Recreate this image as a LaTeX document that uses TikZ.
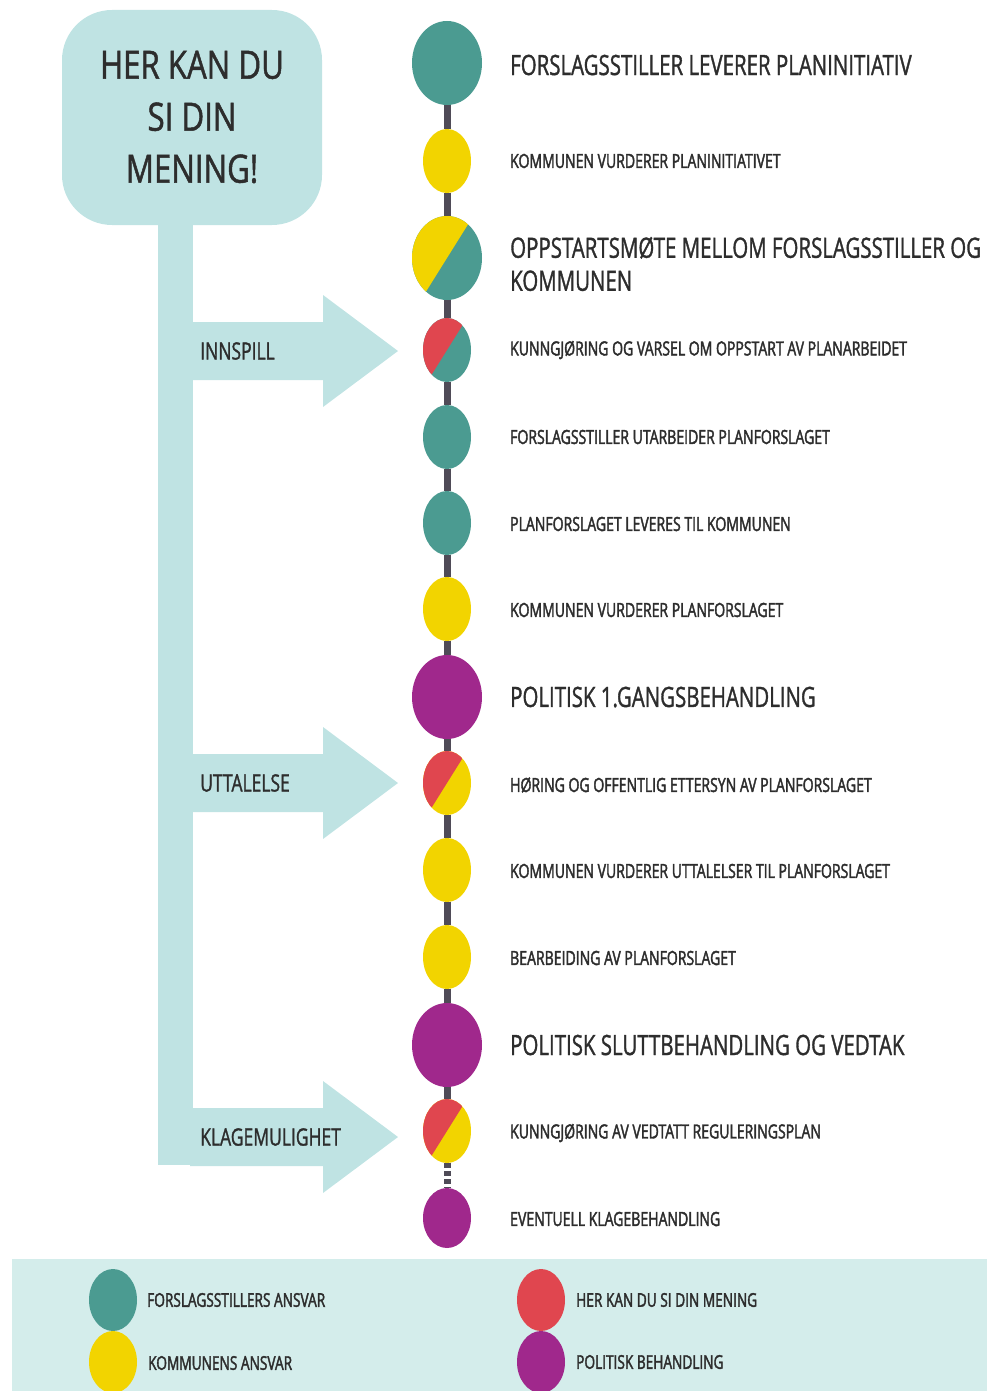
\documentclass[tikz,border=0pt]{standalone}
\usepackage{fontspec}
\setmainfont{Open Sans}
\newfontfamily\narrowfont[FakeStretch=0.73,FakeBold=1.2]{Open Sans}
\newfontfamily\stepfont[FakeStretch=0.72,FakeBold=2]{Open Sans}
\newfontfamily\signfont[FakeStretch=0.8,FakeBold=1.2]{Open Sans}
\usetikzlibrary{shapes.geometric,calc}

\definecolor{forslag}{HTML}{4B9B91}
\definecolor{kommune}{HTML}{F2D400}
\definecolor{mening}{HTML}{E0464F}
\definecolor{politisk}{HTML}{A0288C}
\definecolor{track}{HTML}{4F4B57}
\definecolor{sign}{HTML}{BFE3E3}
\definecolor{legendbg}{HTML}{D4EDEB}
\definecolor{ink}{HTML}{2D2D2D}

\tikzset{
  dot/.style={ellipse, inner sep=0pt, minimum width=48pt, minimum height=64pt, fill=#1},
  dot/.default=forslag,
  big/.style={minimum width=70pt, minimum height=84pt},
  halfdot/.style 2 args={fill=#2, path picture={
    \fill[#1] ([shift={(58:90pt)}]path picture bounding box.center)
      -- ([shift={(238:90pt)}]path picture bounding box.center)
      -- ([shift={(148:90pt)}]path picture bounding box.center) -- cycle;}},
  steptext/.style={anchor=west, inner sep=0pt, text=ink, font=\stepfont\fontsize{19.5}{22}\selectfont},
  bigtext/.style={steptext, font=\narrowfont\fontsize{28}{33}\selectfont},
  armtext/.style={anchor=west, inner sep=0pt, text=ink, font=\narrowfont\fontsize{24}{28}\selectfont},
  legendtext/.style={anchor=west, inner sep=0pt, text=ink, font=\stepfont\fontsize{19}{22}\selectfont},
  tracklink/.style={draw=track, line width=7pt},
}

\begin{document}
\begin{tikzpicture}[x=1pt,y=-1pt]
  \useasboundingbox (0,0) rectangle (987,1391);

  % Sign with stem and arrows
  \fill[sign, rounded corners=50pt] (62,10) rectangle (322,225);
  \fill[sign] (158,215) rectangle (193,1165);
  \foreach \y in {351,783,1137}
    \fill[sign] (190,\y-29) -- (323,\y-29) -- (323,\y-56) -- (398,\y)
      -- (323,\y+56) -- (323,\y+29) -- (190,\y+29) -- cycle;
  \node[text=ink, align=center, font=\signfont\fontsize{39}{52}\selectfont] (sign) at (192,117) {HER KAN DU\\SI DIN\\MENING!};
  \node[armtext] (innspill) at (200,351) {INNSPILL};
  \node[armtext] (uttalelse) at (200,783) {UTTALELSE};
  \node[armtext] (klage) at (200,1137) {KLAGEMULIGHET};

  % Steps
  \node[dot=forslag, big] (s1) at (447,63) {};
  \node[dot=kommune] (s2) at (447,161) {};
  \node[dot, big, halfdot={kommune}{forslag}] (s3) at (447,258) {};
  \node[dot, halfdot={mening}{forslag}] (s4) at (447,350) {};
  \node[dot=forslag] (s5) at (447,437) {};
  \node[dot=forslag] (s6) at (447,523) {};
  \node[dot=kommune] (s7) at (447,609) {};
  \node[dot=politisk, big] (s8) at (447,697) {};
  \node[dot, halfdot={mening}{kommune}] (s9) at (447,783) {};
  \node[dot=kommune] (s10) at (447,870) {};
  \node[dot=kommune] (s11) at (447,957) {};
  \node[dot=politisk, big] (s12) at (447,1045) {};
  \node[dot, halfdot={mening}{kommune}] (s13) at (447,1131) {};
  \node[dot=politisk, minimum height=60pt] (s14) at (447,1218) {};

  % Track
  \foreach \a/\b in {s1/s2,s2/s3,s3/s4,s4/s5,s5/s6,s6/s7,s7/s8,s8/s9,s9/s10,s10/s11,s11/s12,s12/s13}
    \draw[tracklink] (\a) -- (\b);
  \draw[tracklink, dash pattern=on 5pt off 3pt] (s13) -- (s14);

  % Step texts
  \node[bigtext] (t1) at (510,65) {FORSLAGSSTILLER LEVERER PLANINITIATIV};
  \node[steptext] (t2) at (510,161) {KOMMUNEN VURDERER PLANINITIATIVET};
  \node[bigtext, align=left] (t3) at (510,264) {OPPSTARTSMØTE MELLOM FORSLAGSSTILLER OG\\KOMMUNEN};
  \node[steptext] (t4) at (510,350) {KUNNGJØRING OG VARSEL OM OPPSTART AV PLANARBEIDET};
  \node[steptext] (t5) at (510,437) {FORSLAGSSTILLER UTARBEIDER PLANFORSLAGET};
  \node[steptext] (t6) at (510,524) {PLANFORSLAGET LEVERES TIL KOMMUNEN};
  \node[steptext] (t7) at (510,610) {KOMMUNEN VURDERER PLANFORSLAGET};
  \node[bigtext] (t8) at (510,697) {POLITISK 1.GANGSBEHANDLING};
  \node[steptext] (t9) at (510,785) {HØRING OG OFFENTLIG ETTERSYN AV PLANFORSLAGET};
  \node[steptext] (t10) at (510,871) {KOMMUNEN VURDERER UTTALELSER TIL PLANFORSLAGET};
  \node[steptext] (t11) at (510,958) {BEARBEIDING AV PLANFORSLAGET};
  \node[bigtext] (t12) at (510,1045) {POLITISK SLUTTBEHANDLING OG VEDTAK};
  \node[steptext] (t13) at (510,1133) {KUNNGJØRING AV VEDTATT REGULERINGSPLAN};
  \node[steptext] (t14) at (510,1219) {EVENTUELL KLAGEBEHANDLING};

  % Legend
  \fill[legendbg] (12,1259) rectangle (987,1391);
  \node[dot=forslag, minimum height=62pt] (l1) at (113,1300) {};
  \node[dot=kommune, minimum height=62pt] (l2) at (113,1362) {};
  \node[dot=mening, minimum height=62pt] (l3) at (541,1300) {};
  \node[dot=politisk, minimum height=62pt] (l4) at (541,1362) {};
  \node[legendtext] (lt1) at (147,1300) {FORSLAGSSTILLERS ANSVAR};
  \node[legendtext] (lt2) at (148,1363) {KOMMUNENS ANSVAR};
  \node[legendtext] (lt3) at (576,1300) {HER KAN DU SI DIN MENING};
  \node[legendtext] (lt4) at (576,1362) {POLITISK BEHANDLING};
\end{tikzpicture}
\end{document}
